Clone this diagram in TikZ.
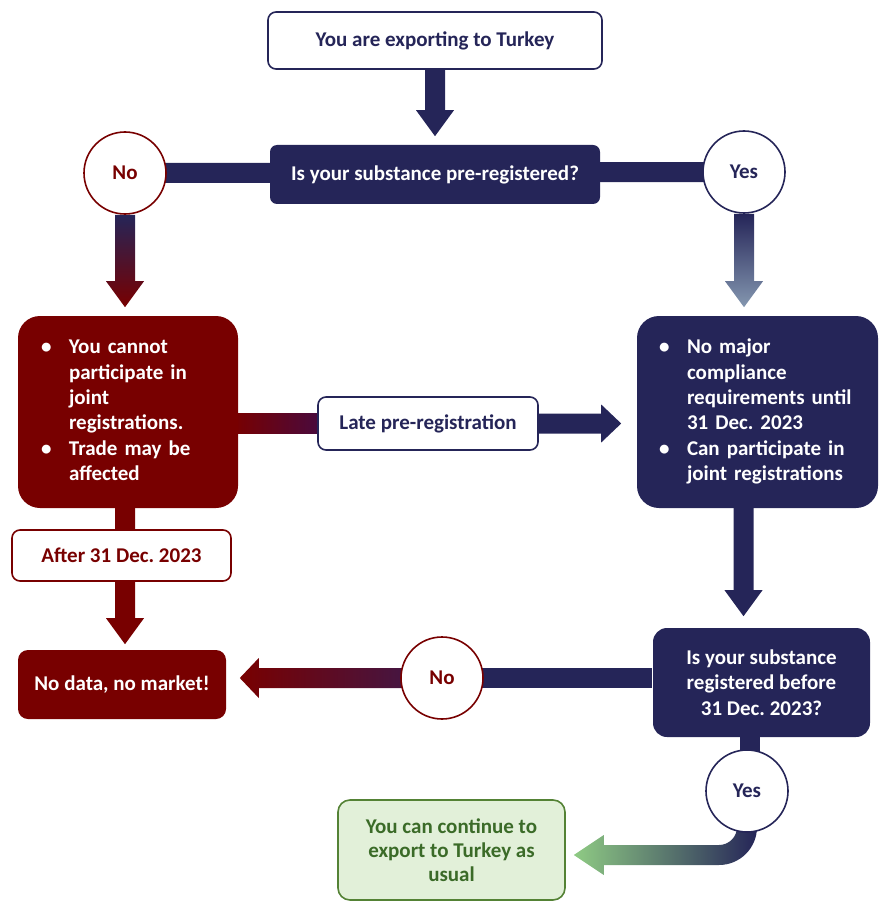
\documentclass[tikz,border=0pt]{standalone}
\usepackage{fontspec}
\setmainfont{Carlito}
\frenchspacing
\usetikzlibrary{calc}
\pgfdeclarelayer{background}
\pgfsetlayers{background,main}
\definecolor{navy}{HTML}{252558}
\definecolor{dred}{HTML}{780000}
\definecolor{dpurp}{HTML}{4A0A3C}
\definecolor{npurp}{HTML}{3A1A50}
\definecolor{steel}{HTML}{8497B0}
\definecolor{garrow}{HTML}{8FCB84}
\definecolor{gfill}{HTML}{E2F0D9}
\definecolor{gline}{HTML}{548235}
\definecolor{gtext}{HTML}{3B6B28}
\tikzset{
  base/.style={font=\fontsize{21}{25.3}\selectfont\bfseries, align=center, inner sep=0pt, line width=1.6pt},
  outnavy/.style={base, draw=navy, fill=white, text=navy, rounded corners=8pt},
  outred/.style={base, draw=dred, fill=white, text=dred, rounded corners=8pt},
  solidnavy/.style={base, fill=navy, text=white},
  solidred/.style={base, fill=dred, text=white},
  greenbox/.style={base, draw=gline, fill=gfill, text=gtext, rounded corners=12pt},
  ringred/.style={base, circle, draw=dred, fill=white, text=dred, minimum size=82pt},
  ringnavy/.style={base, circle, draw=navy, fill=white, text=navy, minimum size=82pt},
  bar/.style={line width=20pt, navy},
}
% vertical block arrow: #1 start, #2 target (tip y), #3 top colour, #4 bottom colour
\newcommand\blockdown[4]{%
  \shade[top color=#3, bottom color=#4] let \p1=(#1), \p2=(#2) in
    (\x1-10pt,\y1) -- (\x1+10pt,\y1) -- (\x1+10pt,\y2+26pt) -- (\x1+19pt,\y2+26pt)
    -- (\x1,\y2) -- (\x1-19pt,\y2+26pt) -- (\x1-10pt,\y2+26pt) -- cycle;}
\begin{document}
\begin{tikzpicture}[x=1pt,y=-1pt]
\useasboundingbox (0,0) rectangle (878,901);
% nodes
\node[outnavy, minimum width=334, minimum height=57] (top) at (435,40.5) {You are exporting to Turkey};
\node[solidnavy, rounded corners=7pt, minimum width=330, minimum height=59] (q1) at (435,174.5) {Is your substance pre-registered?};
\node[ringred] (no1) at (125,173) {No};
\node[ringnavy] (yes1) at (744,172) {Yes};
\node[solidred, rounded corners=22pt, minimum height=192, text width=174, inner xsep=23pt, align=left] (redbox) at (128,412)
  {\begin{tabular}{@{}p{28pt}@{}l@{}}•&You cannot\\ &participate in\\ &joint\\ &registrations.\\ •&Trade may be\\ &affected\end{tabular}};
\node[solidnavy, rounded corners=22pt, minimum height=192, text width=197, inner xsep=22pt, align=left] (navybox) at (757.5,412)
  {\begin{tabular}{@{}p{28pt}@{}l@{}}•&No major\\ &compliance\\ &requirements until\\ &31 Dec. 2023\\ •&Can participate in\\ &joint registrations\end{tabular}};
\node[outnavy, minimum width=220, minimum height=53] (late) at (428,423.5) {Late pre-registration};
\node[outred, minimum width=219, minimum height=51] (after) at (121.5,555.5) {After 31 Dec. 2023};
\node[solidred, rounded corners=10pt, minimum width=208, minimum height=69] (nodata) at (122,684.5) {No data, no market!};
\node[solidnavy, rounded corners=14pt, minimum width=217, minimum height=109] (q2) at (761.5,682.5) {Is your substance\\registered before\\31 Dec. 2023?};
\node[ringred] (no2) at (442,678) {No};
\node[ringnavy] (yes2) at (747,791) {Yes};
\node[greenbox, minimum width=227, minimum height=100, font=\fontsize{21}{24.2}\selectfont\bfseries] (green) at (451.5,850) {You can continue to\\export to Turkey as\\usual};
% connectors
\begin{pgfonlayer}{background}
\blockdown{top.south}{$(q1.north)+(0,-8)$}{navy}{navy}
\draw[bar] (no1.center) -- (yes1.center);
\blockdown{no1.south}{$(redbox.north)+(0,-8)$}{navy}{dred}
\blockdown{yes1.south}{$(redbox.north)+(0,-8)$}{navy}{steel}
\shade[left color=dred, right color=dpurp] let \p1=(redbox.east), \p2=(late.west) in
  (\x1-5pt,\y2-10pt) rectangle (\x2,\y2+10pt);
\fill[navy] let \p1=(late.east), \p2=(navybox.west) in
  (\x1,\y1+10pt) -- (\x2-35pt,\y1+10pt) -- (\x2-35pt,\y1+19pt) -- (\x2-15pt,\y1)
  -- (\x2-35pt,\y1-19pt) -- (\x2-35pt,\y1-10pt) -- (\x1,\y1-10pt) -- cycle;
\blockdown{$(redbox.south)+(-3,-5)$}{$(nodata.north)+(0,-5)$}{dred}{dred}
\blockdown{$(navybox.south)+(-14,-5)$}{$(q2.north)+(0,-11)$}{navy}{navy}
\draw[bar] (no2.center) -- (q2.west |- no2.center);
\shade[left color=dred, right color=npurp] let \p1=(no2.center), \p2=(nodata.east) in
  (\x1,\y1+10pt) -- (\x2+32pt,\y1+10pt) -- (\x2+32pt,\y1+20pt) -- (\x2+13pt,\y1)
  -- (\x2+32pt,\y1-20pt) -- (\x2+32pt,\y1-10pt) -- (\x1,\y1-10pt) -- cycle;
\draw[bar] let \p1=(q2.south), \p2=(yes2.center) in (\x2+3pt,\y1+5pt) -- (\x2+3pt,\y2);
\shade[left color=garrow, right color=navy] let \p1=(yes2.center), \p2=(green.east) in
  (\x1+10pt,\y1) -- (\x1+10pt,\y1-36pt) arc[start angle=0, end angle=-90, radius=38pt]
  -- (\x2+38pt,\y1-74pt) -- (\x2+38pt,\y1-84pt) -- (\x2+8pt,\y1-64pt) -- (\x2+38pt,\y1-44pt)
  -- (\x2+38pt,\y1-54pt) -- (\x1-28pt,\y1-54pt) arc[start angle=-90, end angle=0, radius=18pt]
  -- (\x1-10pt,\y1) -- cycle;
\end{pgfonlayer}
\end{tikzpicture}
\end{document}
